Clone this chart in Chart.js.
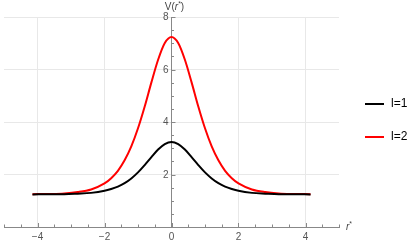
<!DOCTYPE html>
<html>
<head>
<meta charset="utf-8">
<script src="https://cdn.jsdelivr.net/npm/chart.js@4.4.1/dist/chart.umd.min.js"></script>
<style>
  html, body { margin: 0; padding: 0; background: #fff; }
  #wrap { width: 415px; height: 242px; position: relative; }
</style>
</head>
<body>
<div id="wrap"><canvas id="chartV"></canvas></div>
<script>
// V(r*) for l=1 and l=2
const rStar = [-4.15, -3.6, -3.2, -2.8, -2.4, -2.0, -1.8, -1.6, -1.4, -1.2, -1.0, -0.8, -0.6, -0.4, -0.2, 0,
               0.2, 0.4, 0.6, 0.8, 1.0, 1.2, 1.4, 1.6, 1.8, 2.0, 2.4, 2.8, 3.2, 3.6, 4.15];
const vL1 = [1.24, 1.25, 1.25, 1.27, 1.30, 1.38, 1.45, 1.54, 1.67, 1.85, 2.08, 2.36, 2.66, 2.95, 3.16, 3.24,
             3.16, 2.95, 2.66, 2.36, 2.08, 1.85, 1.67, 1.54, 1.45, 1.38, 1.30, 1.27, 1.25, 1.25, 1.24];
const vL2 = [1.25, 1.26, 1.28, 1.33, 1.43, 1.66, 1.86, 2.14, 2.54, 3.07, 3.76, 4.59, 5.51, 6.37, 7.01, 7.24,
             7.01, 6.37, 5.51, 4.59, 3.76, 3.07, 2.54, 2.14, 1.86, 1.66, 1.43, 1.33, 1.28, 1.26, 1.25];
const seriesLabels = ['l=1', 'l=2'];
const seriesColors = ['#000000', '#ff0000'];
const xTickLabels = [-4, -2, 0, 2, 4];
const yTickLabels = [2, 4, 6, 8];

Chart.defaults.font.family = "'Liberation Sans', Arial, sans-serif";

const isMajor = (v, list) => list.includes(Math.round(v * 100) / 100);
const onHalf = v => Math.abs(v * 2 - Math.round(v * 2)) < 1e-6;

// Mathematica style: inward tick marks, y labels left of the axis, axis names, legend on the right
const decorations = {
  id: 'decorations',
  afterDraw(chart) {
    const ctx = chart.ctx;
    const xs = chart.scales.x, ys = chart.scales.y;
    const x0 = xs.getPixelForValue(0), y0 = ys.getPixelForValue(0);
    ctx.save();
    ctx.strokeStyle = '#888';
    ctx.lineWidth = 1;
    xs.ticks.forEach(t => {
      if (!onHalf(t.value)) return;
      const px = Math.round(xs.getPixelForValue(t.value)) + 0.5;
      const len = isMajor(t.value, xTickLabels) ? 4 : 2.5;
      ctx.beginPath(); ctx.moveTo(px, y0); ctx.lineTo(px, y0 - len); ctx.stroke();
    });
    ctx.fillStyle = '#555';
    ctx.font = "10px 'Liberation Sans', Arial, sans-serif";
    ctx.textAlign = 'right';
    ctx.textBaseline = 'middle';
    ys.ticks.forEach(t => {
      if (!onHalf(t.value) || t.value === 0) return;
      const py = Math.round(ys.getPixelForValue(t.value)) + 0.5;
      const major = isMajor(t.value, yTickLabels);
      ctx.beginPath(); ctx.moveTo(x0, py); ctx.lineTo(x0 + (major ? 4 : 2.5), py); ctx.stroke();
      if (major) ctx.fillText(String(t.value), x0 - 3, py);
    });

    // axis names
    ctx.fillStyle = '#444';
    const normal = "10px 'Liberation Sans', Arial, sans-serif";
    const ital = "italic 10px 'Liberation Sans', Arial, sans-serif";
    const sup = "7px 'Liberation Sans', Arial, sans-serif";
    const parts = [['V(', normal, 0], ['r', ital, 0], ['*', sup, -3], [')', normal, 0]];
    let w = 0;
    parts.forEach(p => { ctx.font = p[1]; w += ctx.measureText(p[0]).width; });
    let cx = x0 + 3 - w / 2;
    const topY = chart.chartArea.top - 10;
    ctx.textAlign = 'left';
    parts.forEach(p => { ctx.font = p[1]; ctx.fillText(p[0], cx, topY + p[2]); cx += ctx.measureText(p[0]).width; });
    let rx = chart.chartArea.right + 7;
    ctx.font = ital; ctx.fillText('r', rx, y0);
    rx += ctx.measureText('r').width;
    ctx.font = sup; ctx.fillText('*', rx, y0 - 3);

    // legend
    ctx.font = "12px 'Liberation Sans', Arial, sans-serif";
    ctx.fillStyle = '#000';
    chart.data.datasets.forEach((ds, i) => {
      const ly = 104 + i * 33;
      ctx.strokeStyle = ds.borderColor;
      ctx.lineWidth = 2;
      ctx.beginPath(); ctx.moveTo(365, ly); ctx.lineTo(384, ly); ctx.stroke();
      ctx.fillText(ds.label, 391, ly);
    });
    ctx.restore();
  }
};

const ctxV = document.getElementById('chartV').getContext('2d');
const chartV = new Chart(ctxV, {
  type: 'line',
  data: {
    datasets: [vL1, vL2].map((vals, i) => ({
      label: seriesLabels[i],
      data: rStar.map((r, j) => ({ x: r, y: vals[j] })),
      borderColor: seriesColors[i],
      borderWidth: 2,
      pointRadius: 0,
      cubicInterpolationMode: 'monotone',
      fill: false
    }))
  },
  options: {
    responsive: true,
    maintainAspectRatio: false,
    animation: false,
    layout: { padding: { left: 0, right: 76, top: 17, bottom: 15 } },
    scales: {
      x: {
        type: 'linear',
        position: { y: 0 },
        min: -5,
        max: 5,
        grid: {
          drawTicks: false,
          color: c => (c.tick && c.tick.value !== 0 && isMajor(c.tick.value, xTickLabels)) ? '#e8e8e8' : 'rgba(0,0,0,0)'
        },
        border: { display: true, color: '#888', width: 1 },
        ticks: {
          stepSize: 0.5,
          autoSkip: false,
          maxRotation: 0,
          padding: 4,
          color: '#555',
          font: { size: 10 },
          callback: v => isMajor(v, xTickLabels) ? String(v).replace('-', '\u2212') : ''
        }
      },
      y: {
        type: 'linear',
        position: { x: 0 },
        min: 0,
        max: 8,
        grid: {
          drawTicks: false,
          color: c => (c.tick && isMajor(c.tick.value, yTickLabels)) ? '#e8e8e8' : 'rgba(0,0,0,0)'
        },
        border: { display: true, color: '#888', width: 1 },
        ticks: {
          stepSize: 0.5,
          autoSkip: false,
          display: false
        }
      }
    },
    plugins: {
      legend: { display: false },
      tooltip: { enabled: false }
    }
  },
  plugins: [decorations]
});
</script>
</body>
</html>
